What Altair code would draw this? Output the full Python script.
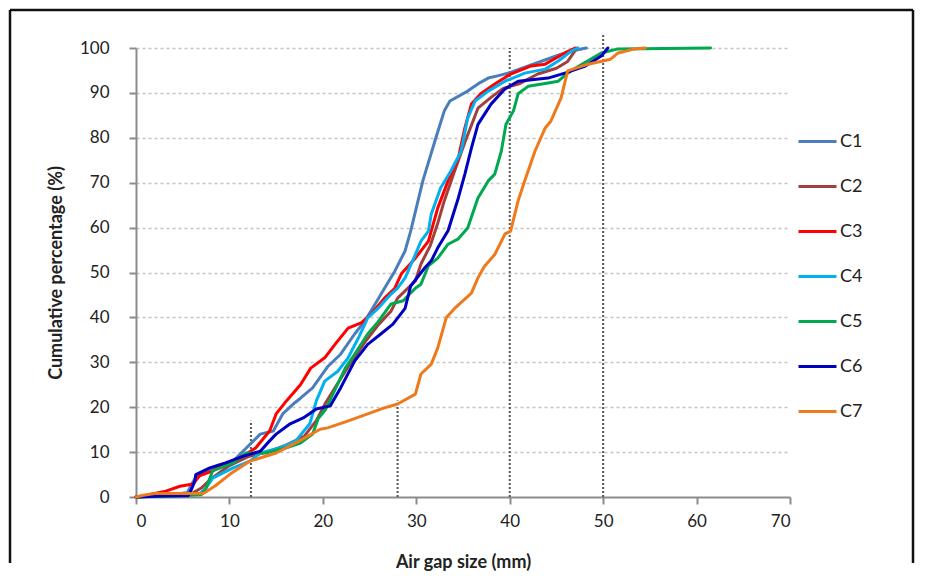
import altair as alt
import pandas as pd

# ---- data ----
series_names = ["C1", "C2", "C3", "C4", "C5", "C6", "C7"]
series_colors = ["#4A7EBB", "#A0403D", "#FF0000", "#00B0F0", "#00A84F", "#0000BF", "#EE7A1C"]

C1_x = [0, 2, 4, 5.5, 6.0, 6.6, 8.6, 10.4, 11.8, 13.3, 14.7, 15.7, 17.0, 17.6, 18.9, 20.5, 21.9, 23.4, 24.5, 25.6, 26.6, 27.7, 28.8, 29.4, 30.7, 32.1, 33.0, 33.6, 35.5, 36.6, 37.7, 38.7, 40.0, 42.0, 44.0, 45.5, 47.0, 48.2]
C1_y = [0, 0.3, 0.5, 1.0, 3.0, 5.0, 6.9, 8.0, 10.9, 14.0, 14.7, 18.5, 21.0, 22.0, 24.3, 29.0, 31.8, 36.3, 39.2, 43.0, 46.5, 50.3, 54.8, 59.2, 70.4, 80.0, 86.0, 88.2, 90.4, 92.0, 93.3, 93.8, 94.5, 96.0, 97.5, 98.6, 99.5, 100]

C2_x = [0, 3, 6, 7, 8, 9, 10, 12, 14, 16, 18, 19.3, 20.3, 21.5, 23, 24.5, 26, 27.3, 28, 29.9, 30.5, 31.5, 32.3, 33.0, 34.0, 35.2, 36.6, 38.0, 39.3, 41.0, 43.0, 45.0, 46.2, 47.2]
C2_y = [0, 0.4, 0.8, 2.0, 4.0, 5.5, 7.0, 9.0, 10.0, 11.5, 13.5, 17.0, 21.0, 25.0, 30.0, 34.5, 38.5, 41.4, 44.3, 48.1, 51.9, 56.0, 61.0, 66.0, 72.0, 79.0, 86.6, 89.0, 91.0, 92.0, 94.2, 95.5, 97.0, 100]

C3_x = [0, 0.7, 2, 3.2, 4.7, 6.1, 6.8, 8.2, 9.3, 11.1, 12.8, 14.3, 15.0, 16.1, 17.6, 18.7, 20.2, 21.3, 22.7, 24.1, 25.2, 26.6, 27.7, 28.4, 29.9, 31.3, 32.3, 33.4, 34.5, 35.2, 35.9, 36.9, 38.4, 40.1, 42.3, 43.8, 45.9, 47.0]
C3_y = [0, 0.2, 0.8, 1.3, 2.4, 2.9, 4.7, 5.8, 7.3, 8.7, 10.9, 14.7, 18.5, 21.4, 25.0, 28.7, 31.0, 34.0, 37.6, 38.8, 40.8, 44.3, 46.5, 49.7, 53.2, 57.0, 64.4, 70.4, 75.5, 82.2, 87.5, 89.8, 92.0, 94.2, 96.0, 96.4, 98.9, 100]

C4_x = [0, 3, 6, 6.8, 7.5, 8.2, 10.4, 12.2, 13.3, 15.4, 17.1, 18.6, 19.3, 20.2, 21.6, 22.7, 23.8, 24.8, 25.9, 27.3, 28.0, 28.8, 29.9, 30.5, 31.3, 31.6, 32.6, 33.7, 34.8, 35.5, 36.3, 37.7, 39.5, 41.6, 43.8, 45.2, 46.6, 47.3]
C4_y = [0, 0.3, 0.5, 0.7, 2.0, 4.2, 6.5, 8.0, 9.8, 10.9, 12.5, 16.3, 21.4, 25.8, 28.0, 31.0, 35.4, 39.9, 42.0, 45.2, 46.5, 48.8, 54.0, 57.0, 59.2, 63.0, 68.8, 72.6, 77.0, 84.4, 88.2, 90.4, 92.6, 94.4, 95.3, 97.1, 99.3, 100]

C5_x = [0, 4, 7.0, 7.5, 8.2, 10.4, 11.8, 13.9, 16.0, 17.6, 18.9, 19.5, 20.3, 21.1, 22.4, 23.4, 24.8, 25.9, 27.3, 28.6, 29.9, 30.5, 31.3, 32.3, 33.4, 34.5, 35.5, 36.6, 37.7, 38.4, 39.1, 39.6, 40.4, 40.9, 42.0, 44.1, 45.2, 46.2, 47.0, 49.8, 51.6, 61.5]
C5_y = [0, 0.2, 0.5, 2.0, 5.8, 7.6, 9.8, 9.8, 10.9, 12.0, 14.0, 17.5, 19.5, 23.0, 28.7, 31.8, 36.3, 39.0, 43.0, 43.7, 46.5, 47.4, 51.5, 53.2, 56.3, 57.5, 59.9, 66.6, 70.4, 71.9, 77.0, 83.0, 86.0, 89.8, 91.5, 92.2, 92.6, 94.4, 95.5, 98.9, 99.8, 100]

C6_x = [0, 3, 5.6, 6.0, 6.3, 6.4, 7.9, 9.6, 11.5, 13.3, 14.3, 15.0, 16.5, 17.9, 19.3, 20.8, 21.9, 23.4, 24.8, 26.2, 27.5, 28.8, 29.4, 30.9, 31.6, 32.3, 33.4, 34.5, 35.2, 35.9, 36.6, 38.0, 39.5, 40.9, 44.1, 45.9, 48.1, 49.8, 50.5]
C6_y = [0, 0.2, 0.3, 2.0, 3.6, 5.0, 6.5, 7.6, 9.1, 10.2, 12.5, 14.0, 16.3, 17.6, 19.6, 20.3, 24.3, 30.3, 34.0, 36.3, 38.5, 42.0, 47.0, 51.0, 52.6, 55.5, 59.3, 66.6, 71.9, 77.7, 83.0, 87.5, 90.9, 92.6, 93.3, 94.4, 96.0, 98.2, 100]

C7_x = [0, 0.8, 2, 7.2, 8.5, 10.0, 12.2, 15.0, 17.5, 19.7, 20.5, 22.5, 24.8, 26.5, 28.0, 29.9, 30.5, 31.6, 32.3, 33.2, 34.1, 35.9, 36.6, 37.3, 38.4, 39.5, 40.1, 40.9, 41.6, 42.7, 43.8, 44.4, 45.5, 46.2, 48.4, 50.8, 51.6, 53.4, 54.5]
C7_y = [0, 0.4, 0.8, 0.8, 2.5, 5.0, 8.0, 9.8, 12.5, 15.1, 15.4, 16.8, 18.5, 19.8, 20.7, 22.9, 27.4, 29.6, 33.2, 39.9, 42.0, 45.4, 48.8, 51.4, 54.0, 58.6, 59.2, 66.0, 70.4, 77.0, 82.2, 83.7, 88.9, 94.9, 96.4, 97.5, 98.9, 99.8, 100]

ref_x = [12.3, 28.0, 40.0, 50.0]
ref_top = [17.0, 21.5, 100.0, 103.0]

x_ticks = [0, 10, 20, 30, 40, 50, 60, 70]
y_ticks = list(range(0, 101, 5))

# ---- build tables ----
xs = [C1_x, C2_x, C3_x, C4_x, C5_x, C6_x, C7_x]
ys = [C1_y, C2_y, C3_y, C4_y, C5_y, C6_y, C7_y]
rows = []
for k, (name, xv, yv) in enumerate(zip(series_names, xs, ys)):
    for i, (a, b) in enumerate(zip(xv, yv)):
        rows.append({"series": name, "gap": a, "pct": b, "idx": i, "k": k})
df = pd.DataFrame(rows)
ref_df = pd.DataFrame({"x": ref_x, "y0": [0] * len(ref_x), "y1": ref_top})

FONT = "Lato"
AX = "#8C8C8C"
TXT = "#222222"

x_scale = alt.Scale(domain=[0, 70], nice=False, zero=False)
y_scale = alt.Scale(domain=[0, 100], nice=False)

x_axis = alt.Axis(
    values=x_ticks, title="Air gap size (mm)", grid=False,
    tickSize=7, tickWidth=2, tickColor=AX, domainColor=AX, domainWidth=2,
    labelFont=FONT, labelFontSize=17, labelColor=TXT, labelPadding=9,
    titleFont=FONT, titleFontSize=18, titleFontWeight="bold", titleColor=TXT, titlePadding=24,
)
y_axis = alt.Axis(
    values=y_ticks, title="Cumulative percentage (%)",
    labelExpr="datum.value % 10 == 0 ? datum.label : ''",
    tickSize={"condition": {"test": "datum.value % 10 == 0", "value": 7}, "value": 4},
    tickWidth=2, tickColor=AX, domainColor=AX, domainWidth=2,
    grid=True, gridColor="#C4C4C4", gridDash=[3, 3], gridWidth=1.5,
    gridOpacity={"condition": {"test": "datum.value % 10 == 0 && datum.value > 0", "value": 1}, "value": 0},
    labelFont=FONT, labelFontSize=17, labelColor=TXT, labelPadding=20,
    titleFont=FONT, titleFontSize=18, titleFontWeight="bold", titleColor=TXT, titlePadding=14,
)

base_lines = alt.Chart(df).mark_line(strokeWidth=3, strokeJoin="round", strokeCap="round").encode(
    x=alt.X("gap:Q", scale=x_scale, axis=x_axis),
    y=alt.Y("pct:Q", scale=y_scale, axis=y_axis),
    color=alt.Color(
        "series:N",
        scale=alt.Scale(domain=series_names, range=series_colors),
        legend=alt.Legend(
            title=None, orient="none", legendX=661, legendY=73,
            symbolType="stroke", symbolSize=1444, symbolStrokeWidth=3,
            labelFont=FONT, labelFontSize=18, labelColor=TXT, labelOffset=2,
            rowPadding=15,
        ),
    ),
    order="idx:Q",
    detail="series:N",
)

refs = alt.Chart(ref_df).mark_rule(color="#555555", strokeDash=[2, 2], strokeWidth=2).encode(
    x=alt.X("x:Q", scale=x_scale),
    y=alt.Y("y0:Q", scale=y_scale),
    y2="y1:Q",
)

one = alt.Data(values=[{"a": 1}])
frame_left = alt.Chart(one).mark_rule(color="#111111", strokeWidth=2.5).encode(
    x=alt.value(-126), y=alt.value(-38), y2=alt.value(515))
frame_right = alt.Chart(one).mark_rule(color="#111111", strokeWidth=2.5).encode(
    x=alt.value(777), y=alt.value(-38), y2=alt.value(515))
frame_top = alt.Chart(one).mark_rule(color="#111111", strokeWidth=2.5).encode(
    x=alt.value(-126), x2=alt.value(777), y=alt.value(-38))

chart = alt.layer(refs, base_lines, frame_left, frame_right, frame_top).properties(
    width=654, height=449, padding=0, background="white"
).configure_view(stroke=None)

chart.save("out.html", embed_options={"renderer": "svg", "actions": False})
